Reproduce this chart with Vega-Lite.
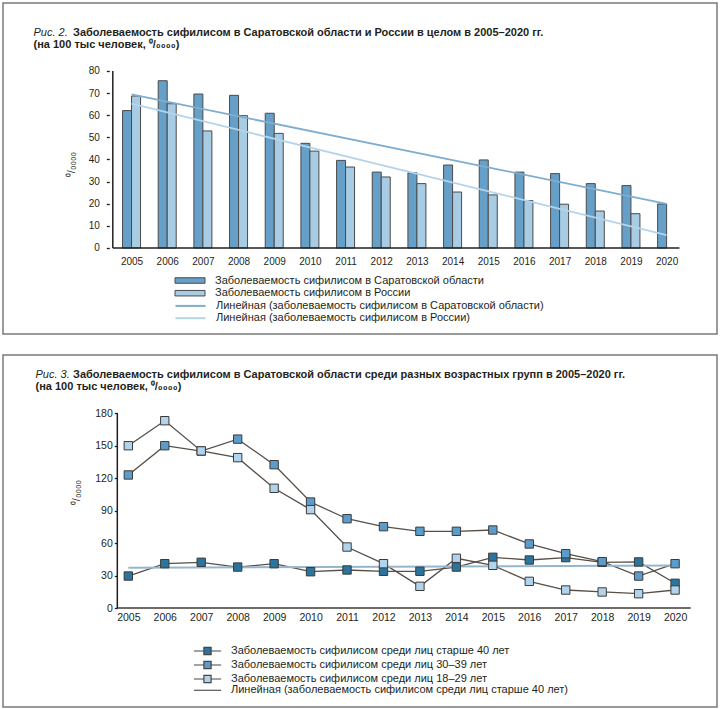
{
  "$schema": "https://vega.github.io/schema/vega-lite/v6.json",
  "padding": {"left": 2, "top": 2, "right": 0, "bottom": 0},
  "background": "white",
  "spacing": 19,
  "config": {
    "font": "Liberation Sans",
    "view": {"stroke": "#7a7a7a", "strokeWidth": 1.5},
    "axis": {"labelFont": "Liberation Sans", "labelColor": "#231f20", "titleFont": "Liberation Sans", "titleColor": "#231f20", "grid": false},
    "legend": {"labelFont": "Liberation Sans", "labelColor": "#231f20", "labelFontSize": 11, "padding": 0, "labelLimit": 700},
    "title": {"font": "Liberation Sans", "color": "#231f20"}
  },
  "datasets": {
    "bars": [
      {"year": 2005, "series": "Заболеваемость сифилисом в Саратовской области", "trend": "Линейная (заболеваемость сифилисом в Саратовской области)", "value": 62.1},
      {"year": 2006, "series": "Заболеваемость сифилисом в Саратовской области", "trend": "Линейная (заболеваемость сифилисом в Саратовской области)", "value": 75.6},
      {"year": 2007, "series": "Заболеваемость сифилисом в Саратовской области", "trend": "Линейная (заболеваемость сифилисом в Саратовской области)", "value": 69.6},
      {"year": 2008, "series": "Заболеваемость сифилисом в Саратовской области", "trend": "Линейная (заболеваемость сифилисом в Саратовской области)", "value": 69.0},
      {"year": 2009, "series": "Заболеваемость сифилисом в Саратовской области", "trend": "Линейная (заболеваемость сифилисом в Саратовской области)", "value": 60.9},
      {"year": 2010, "series": "Заболеваемость сифилисом в Саратовской области", "trend": "Линейная (заболеваемость сифилисом в Саратовской области)", "value": 47.3},
      {"year": 2011, "series": "Заболеваемость сифилисом в Саратовской области", "trend": "Линейная (заболеваемость сифилисом в Саратовской области)", "value": 39.6},
      {"year": 2012, "series": "Заболеваемость сифилисом в Саратовской области", "trend": "Линейная (заболеваемость сифилисом в Саратовской области)", "value": 34.3},
      {"year": 2013, "series": "Заболеваемость сифилисом в Саратовской области", "trend": "Линейная (заболеваемость сифилисом в Саратовской области)", "value": 34.0},
      {"year": 2014, "series": "Заболеваемость сифилисом в Саратовской области", "trend": "Линейная (заболеваемость сифилисом в Саратовской области)", "value": 37.5},
      {"year": 2015, "series": "Заболеваемость сифилисом в Саратовской области", "trend": "Линейная (заболеваемость сифилисом в Саратовской области)", "value": 39.8},
      {"year": 2016, "series": "Заболеваемость сифилисом в Саратовской области", "trend": "Линейная (заболеваемость сифилисом в Саратовской области)", "value": 34.3},
      {"year": 2017, "series": "Заболеваемость сифилисом в Саратовской области", "trend": "Линейная (заболеваемость сифилисом в Саратовской области)", "value": 33.6},
      {"year": 2018, "series": "Заболеваемость сифилисом в Саратовской области", "trend": "Линейная (заболеваемость сифилисом в Саратовской области)", "value": 29.1},
      {"year": 2019, "series": "Заболеваемость сифилисом в Саратовской области", "trend": "Линейная (заболеваемость сифилисом в Саратовской области)", "value": 28.2},
      {"year": 2020, "series": "Заболеваемость сифилисом в Саратовской области", "trend": "Линейная (заболеваемость сифилисом в Саратовской области)", "value": 19.9},
      {"year": 2005, "series": "Заболеваемость сифилисом в России", "trend": "Линейная (заболеваемость сифилисом в России)", "value": 68.7},
      {"year": 2006, "series": "Заболеваемость сифилисом в России", "trend": "Линейная (заболеваемость сифилисом в России)", "value": 65.2},
      {"year": 2007, "series": "Заболеваемость сифилисом в России", "trend": "Линейная (заболеваемость сифилисом в России)", "value": 52.9},
      {"year": 2008, "series": "Заболеваемость сифилисом в России", "trend": "Линейная (заболеваемость сифилисом в России)", "value": 59.8},
      {"year": 2009, "series": "Заболеваемость сифилисом в России", "trend": "Линейная (заболеваемость сифилисом в России)", "value": 51.8},
      {"year": 2010, "series": "Заболеваемость сифилисом в России", "trend": "Линейная (заболеваемость сифилисом в России)", "value": 43.8},
      {"year": 2011, "series": "Заболеваемость сифилисом в России", "trend": "Линейная (заболеваемость сифилисом в России)", "value": 36.6},
      {"year": 2012, "series": "Заболеваемость сифилисом в России", "trend": "Линейная (заболеваемость сифилисом в России)", "value": 32.1},
      {"year": 2013, "series": "Заболеваемость сифилисом в России", "trend": "Линейная (заболеваемость сифилисом в России)", "value": 29.1},
      {"year": 2014, "series": "Заболеваемость сифилисом в России", "trend": "Линейная (заболеваемость сифилисом в России)", "value": 25.3},
      {"year": 2015, "series": "Заболеваемость сифилисом в России", "trend": "Линейная (заболеваемость сифилисом в России)", "value": 24.0},
      {"year": 2016, "series": "Заболеваемость сифилисом в России", "trend": "Линейная (заболеваемость сифилисом в России)", "value": 21.4},
      {"year": 2017, "series": "Заболеваемость сифилисом в России", "trend": "Линейная (заболеваемость сифилисом в России)", "value": 19.8},
      {"year": 2018, "series": "Заболеваемость сифилисом в России", "trend": "Линейная (заболеваемость сифилисом в России)", "value": 16.7},
      {"year": 2019, "series": "Заболеваемость сифилисом в России", "trend": "Линейная (заболеваемость сифилисом в России)", "value": 15.5}
    ],
    "ages": [
      {"year": 2005, "series": "Заболеваемость сифилисом среди лиц старше 40 лет", "value": 29.5},
      {"year": 2006, "series": "Заболеваемость сифилисом среди лиц старше 40 лет", "value": 40.9},
      {"year": 2007, "series": "Заболеваемость сифилисом среди лиц старше 40 лет", "value": 42.2},
      {"year": 2008, "series": "Заболеваемость сифилисом среди лиц старше 40 лет", "value": 37.8},
      {"year": 2009, "series": "Заболеваемость сифилисом среди лиц старше 40 лет", "value": 40.9},
      {"year": 2010, "series": "Заболеваемость сифилисом среди лиц старше 40 лет", "value": 33.5},
      {"year": 2011, "series": "Заболеваемость сифилисом среди лиц старше 40 лет", "value": 35.1},
      {"year": 2012, "series": "Заболеваемость сифилисом среди лиц старше 40 лет", "value": 33.9},
      {"year": 2013, "series": "Заболеваемость сифилисом среди лиц старше 40 лет", "value": 33.9},
      {"year": 2014, "series": "Заболеваемость сифилисом среди лиц старше 40 лет", "value": 37.8},
      {"year": 2015, "series": "Заболеваемость сифилисом среди лиц старше 40 лет", "value": 46.8},
      {"year": 2016, "series": "Заболеваемость сифилисом среди лиц старше 40 лет", "value": 44.3},
      {"year": 2017, "series": "Заболеваемость сифилисом среди лиц старше 40 лет", "value": 46.5},
      {"year": 2018, "series": "Заболеваемость сифилисом среди лиц старше 40 лет", "value": 42.2},
      {"year": 2019, "series": "Заболеваемость сифилисом среди лиц старше 40 лет", "value": 42.5},
      {"year": 2020, "series": "Заболеваемость сифилисом среди лиц старше 40 лет", "value": 22.8},
      {"year": 2005, "series": "Заболеваемость сифилисом среди лиц 30–39 лет", "value": 122.8},
      {"year": 2006, "series": "Заболеваемость сифилисом среди лиц 30–39 лет", "value": 149.8},
      {"year": 2007, "series": "Заболеваемость сифилисом среди лиц 30–39 лет", "value": 144.9},
      {"year": 2008, "series": "Заболеваемость сифилисом среди лиц 30–39 лет", "value": 155.9},
      {"year": 2009, "series": "Заболеваемость сифилисом среди лиц 30–39 лет", "value": 132.3},
      {"year": 2010, "series": "Заболеваемость сифилисом среди лиц 30–39 лет", "value": 97.8},
      {"year": 2011, "series": "Заболеваемость сифилисом среди лиц 30–39 лет", "value": 82.4},
      {"year": 2012, "series": "Заболеваемость сифилисом среди лиц 30–39 лет", "value": 75.1},
      {"year": 2013, "series": "Заболеваемость сифилисом среди лиц 30–39 лет", "value": 70.8},
      {"year": 2014, "series": "Заболеваемость сифилисом среди лиц 30–39 лет", "value": 70.8},
      {"year": 2015, "series": "Заболеваемость сифилисом среди лиц 30–39 лет", "value": 72.0},
      {"year": 2016, "series": "Заболеваемость сифилисом среди лиц 30–39 лет", "value": 59.1},
      {"year": 2017, "series": "Заболеваемость сифилисом среди лиц 30–39 лет", "value": 50.1},
      {"year": 2018, "series": "Заболеваемость сифилисом среди лиц 30–39 лет", "value": 42.8},
      {"year": 2019, "series": "Заболеваемость сифилисом среди лиц 30–39 лет", "value": 29.5},
      {"year": 2020, "series": "Заболеваемость сифилисом среди лиц 30–39 лет", "value": 40.9},
      {"year": 2005, "series": "Заболеваемость сифилисом среди лиц 18–29 лет", "value": 149.8},
      {"year": 2006, "series": "Заболеваемость сифилисом среди лиц 18–29 лет", "value": 172.9},
      {"year": 2007, "series": "Заболеваемость сифилисом среди лиц 18–29 лет", "value": 145.0},
      {"year": 2008, "series": "Заболеваемость сифилисом среди лиц 18–29 лет", "value": 138.8},
      {"year": 2009, "series": "Заболеваемость сифилисом среди лиц 18–29 лет", "value": 110.5},
      {"year": 2010, "series": "Заболеваемость сифилисом среди лиц 18–29 лет", "value": 90.8},
      {"year": 2011, "series": "Заболеваемость сифилисом среди лиц 18–29 лет", "value": 56.3},
      {"year": 2012, "series": "Заболеваемость сифилисом среди лиц 18–29 лет", "value": 40.9},
      {"year": 2013, "series": "Заболеваемость сифилисом среди лиц 18–29 лет", "value": 20.0},
      {"year": 2014, "series": "Заболеваемость сифилисом среди лиц 18–29 лет", "value": 45.9},
      {"year": 2015, "series": "Заболеваемость сифилисом среди лиц 18–29 лет", "value": 39.4},
      {"year": 2016, "series": "Заболеваемость сифилисом среди лиц 18–29 лет", "value": 24.6},
      {"year": 2017, "series": "Заболеваемость сифилисом среди лиц 18–29 лет", "value": 16.6},
      {"year": 2018, "series": "Заболеваемость сифилисом среди лиц 18–29 лет", "value": 14.8},
      {"year": 2019, "series": "Заболеваемость сифилисом среди лиц 18–29 лет", "value": 13.2},
      {"year": 2020, "series": "Заболеваемость сифилисом среди лиц 18–29 лет", "value": 16.6}
    ]
  },
  "resolve": {"scale": {"x": "independent", "y": "independent", "fill": "independent", "stroke": "independent"}},
  "vconcat": [
    {
      "width": 714,
      "height": 331,
      "title": {
        "text": "Заболеваемость сифилисом в Саратовской области и России в целом в 2005–2020 гг.",
        "anchor": "start", "frame": "group", "dx": 70, "offset": -34.8,
        "fontSize": 11, "fontWeight": "bold"
      },
      "data": {"name": "bars"},
      "resolve": {"axis": {"y": "independent"}},
      "layer": [
        {
          "layer": [
            {
              "transform": [{"filter": {"field": "series", "equal": "Заболеваемость сифилисом в Саратовской области"}}],
              "mark": {"type": "bar", "width": 9, "xOffset": -4.5, "stroke": "#4a4a4a", "strokeWidth": 1},
              "encoding": {
                "x": {"field": "year", "type": "quantitative", "scale": {"domain": [2001.537, 2021.272], "nice": false, "zero": false},
                  "axis": {"values": [2005, 2006, 2007, 2008, 2009, 2010, 2011, 2012, 2013, 2014, 2015, 2016, 2017, 2018, 2019, 2020], "format": "d", "offset": -86, "ticks": false, "domain": false, "labelPadding": 8, "labelFontSize": 10, "labelFlush": false, "labelOverlap": false,
                    "title": "(на 100 тыс человек, \u2070/\u2080\u2080\u2080\u2080)", "titleFontWeight": "bold", "titleFontSize": 11, "titleX": 30, "titleY": -209.3, "titleAlign": "left", "titleBaseline": "top", "titleAngle": 0}},
                "y": {"field": "value", "type": "quantitative", "scale": {"domain": [-38.87, 110.73], "nice": false, "zero": false},
                  "axis": {"orient": "left", "values": [0, 10, 20, 30, 40, 50, 60, 70, 80], "offset": -106.3, "domain": false, "ticks": true, "tickSize": 3, "tickColor": "#231f20", "tickWidth": 1.3, "labelPadding": 7, "labelFontSize": 10,
                    "title": "\u2070/\u2080\u2080\u2080\u2080", "titleFontWeight": "normal", "titleFontSize": 11, "titleAngle": 270, "titleX": -37.8, "titleY": 161, "titleAlign": "center", "titleBaseline": "middle"}},
                "y2": {"datum": 0},
                "fill": {"field": "series", "type": "nominal", "scale": {"domain": ["Заболеваемость сифилисом в Саратовской области", "Заболеваемость сифилисом в России"], "range": ["#66a0c8", "#a8cce4"]},
                  "legend": {"title": null, "orient": "none", "legendX": 181.5, "legendY": 272, "symbolType": "M-3,-0.55H3V0.55H-3Z", "symbolSize": 100, "symbolStrokeColor": "#4a4a4a", "symbolStrokeWidth": 1, "labelOffset": 19.5, "rowPadding": 0.7, "labelFontSize": 11,
                    "encode": {"symbols": {"update": {"stroke": {"value": "#4a4a4a"}, "strokeWidth": {"value": 1}}}}}}
              }
            },
            {
              "transform": [{"filter": {"field": "series", "equal": "Заболеваемость сифилисом в России"}}],
              "mark": {"type": "bar", "width": 9, "xOffset": 4.5, "stroke": "#4a4a4a", "strokeWidth": 1},
              "encoding": {
                "x": {"field": "year", "type": "quantitative", "scale": {"domain": [2001.537, 2021.272], "nice": false, "zero": false}},
                "y": {"field": "value", "type": "quantitative", "scale": {"domain": [-38.87, 110.73], "nice": false, "zero": false}},
                "y2": {"datum": 0},
                "fill": {"field": "series", "type": "nominal", "scale": {"domain": ["Заболеваемость сифилисом в Саратовской области", "Заболеваемость сифилисом в России"], "range": ["#66a0c8", "#a8cce4"]}}
              }
            },
            {
              "transform": [{"regression": "value", "on": "year", "groupby": ["trend"], "extent": [2005, 2020]}],
              "mark": {"type": "line", "strokeWidth": 1.8},
              "encoding": {
                "x": {"field": "year", "type": "quantitative", "scale": {"domain": [2001.537, 2021.272], "nice": false, "zero": false}},
                "y": {"field": "value", "type": "quantitative", "scale": {"domain": [-38.87, 110.73], "nice": false, "zero": false}},
                "stroke": {"field": "trend", "type": "nominal", "scale": {"domain": ["Линейная (заболеваемость сифилисом в Саратовской области)", "Линейная (заболеваемость сифилисом в России)"], "range": ["#7dadcf", "#b4d4ea"]},
                  "legend": {"title": null, "orient": "none", "legendX": 181.5, "legendY": 296.9, "symbolType": "M-3,0H3", "symbolSize": 100, "symbolStrokeWidth": 2, "labelOffset": 19.5, "rowPadding": 1.3, "labelFontSize": 11}}
              }
            },
            {
              "data": {"values": [{}]},
              "mark": {"type": "rule", "color": "#231f20", "strokeWidth": 1.5},
              "encoding": {
                "x": {"datum": 2004.475, "type": "quantitative", "scale": {"domain": [2001.537, 2021.272], "nice": false, "zero": false}},
                "x2": {"datum": 2020.36},
                "y": {"datum": 0, "type": "quantitative", "scale": {"domain": [-38.87, 110.73], "nice": false, "zero": false}}
              }
            }
          ]
        },
        {
          "data": {"values": [{}]},
          "mark": {"type": "rule", "color": "#231f20", "strokeWidth": 1.5},
          "encoding": {
            "x": {"datum": 2004.475, "type": "quantitative", "scale": {"domain": [2001.537, 2021.272], "nice": false, "zero": false}},
            "y": {"datum": 0, "type": "quantitative", "scale": {"domain": [-38.87, 110.73], "nice": false, "zero": false},
              "axis": {"orient": "left", "labels": false, "ticks": false, "domain": false, "grid": false, "offset": 0,
                "title": "Рис. 2.", "titleFontStyle": "italic", "titleFontWeight": "normal", "titleFontSize": 11, "titleX": 30, "titleY": 23, "titleAlign": "left", "titleBaseline": "top", "titleAngle": 0}},
            "y2": {"datum": 80}
          }
        }
      ]
    },
    {
      "width": 714,
      "height": 352,
      "title": {
        "text": "Заболеваемость сифилисом в Саратовской области среди разных возрастных групп в 2005–2020 гг.",
        "anchor": "start", "frame": "group", "dx": 70, "offset": -24.8,
        "fontSize": 11, "fontWeight": "bold"
      },
      "data": {"name": "ages"},
      "resolve": {"axis": {"y": "independent"}},
      "layer": [
        {
          "layer": [
            {
              "mark": {"type": "line", "stroke": "#574f48", "strokeWidth": 1.3},
              "encoding": {
                "x": {"field": "year", "type": "quantitative", "scale": {"domain": [2001.562, 2021.15], "nice": false, "zero": false},
                  "axis": {"values": [2005, 2006, 2007, 2008, 2009, 2010, 2011, 2012, 2013, 2014, 2015, 2016, 2017, 2018, 2019, 2020], "format": "d", "offset": -99, "ticks": false, "domain": false, "labelPadding": 4, "labelFontSize": 10.5, "labelFlush": false, "labelOverlap": false,
                    "title": "(на 100 тыс человек, \u2070/\u2080\u2080\u2080\u2080)", "titleFontWeight": "bold", "titleFontSize": 11, "titleX": 32, "titleY": -227.5, "titleAlign": "left", "titleBaseline": "top", "titleAngle": 0}},
                "y": {"field": "value", "type": "quantitative", "scale": {"domain": [-91.38, 233.54], "nice": false, "zero": false},
                  "axis": {"orient": "left", "values": [0, 30, 60, 90, 120, 150, 180], "offset": -114.3, "domain": false, "ticks": true, "tickSize": 3, "tickColor": "#231f20", "tickWidth": 1.3, "labelPadding": 2, "labelFontSize": 10.5,
                    "title": "\u2070/\u2080\u2080\u2080\u2080", "titleFontWeight": "normal", "titleFontSize": 11, "titleAngle": 270, "titleX": -41.3, "titleY": 137, "titleAlign": "center", "titleBaseline": "middle"}},
                "detail": {"field": "series", "type": "nominal"}
              }
            },
            {
              "transform": [
                {"filter": {"field": "series", "equal": "Заболеваемость сифилисом среди лиц старше 40 лет"}},
                {"regression": "value", "on": "year", "extent": [2005, 2020]}
              ],
              "mark": {"type": "line", "stroke": "#95b6cf", "strokeWidth": 2},
              "encoding": {
                "x": {"field": "year", "type": "quantitative", "scale": {"domain": [2001.562, 2021.15], "nice": false, "zero": false}},
                "y": {"field": "value", "type": "quantitative", "scale": {"domain": [-91.38, 233.54], "nice": false, "zero": false}}
              }
            },
            {
              "mark": {"type": "point", "shape": "square", "filled": true, "size": 70, "stroke": "#3d3a36", "strokeWidth": 1, "opacity": 1},
              "encoding": {
                "x": {"field": "year", "type": "quantitative", "scale": {"domain": [2001.562, 2021.15], "nice": false, "zero": false}},
                "y": {"field": "value", "type": "quantitative", "scale": {"domain": [-91.38, 233.54], "nice": false, "zero": false}},
                "fill": {"field": "series", "type": "nominal", "scale": {"domain": ["Заболеваемость сифилисом среди лиц старше 40 лет", "Заболеваемость сифилисом среди лиц 30–39 лет", "Заболеваемость сифилисом среди лиц 18–29 лет"], "range": ["#2a75a0", "#5a9dcc", "#b0d4ee"]},
                  "legend": {"title": null, "orient": "none", "legendX": 199, "legendY": 290.5, "symbolType": "M-3.4,0H-0.9M0.9,0H3.4M-0.9,-0.9H0.9V0.9H-0.9Z", "symbolSize": 64, "symbolStrokeColor": "#4a4540", "symbolStrokeWidth": 1.2, "labelOffset": 18, "rowPadding": 1, "labelFontSize": 11,
                    "encode": {"symbols": {"update": {"stroke": {"value": "#4a4540"}, "strokeWidth": {"value": 1.2}, "opacity": {"value": 1}}}}}}
              }
            },
            {
              "data": {"values": [{"trend": "Линейная (заболеваемость сифилисом среди лиц старше 40 лет)"}]},
              "mark": {"type": "rule", "strokeWidth": 1.5},
              "encoding": {
                "x": {"datum": 2004.698, "type": "quantitative", "scale": {"domain": [2001.562, 2021.15], "nice": false, "zero": false}},
                "x2": {"datum": 2020.429},
                "y": {"datum": 0, "type": "quantitative", "scale": {"domain": [-91.38, 233.54], "nice": false, "zero": false}},
                "stroke": {"field": "trend", "type": "nominal", "scale": {"domain": ["Линейная (заболеваемость сифилисом среди лиц старше 40 лет)"], "range": ["#3f3a35"]},
                  "legend": {"title": null, "orient": "none", "legendX": 199, "legendY": 329.8, "symbolType": "M-3.4,0H3.4", "symbolSize": 64, "symbolStrokeWidth": 1.2, "labelOffset": 18, "labelFontSize": 11,
                    "encode": {"symbols": {"update": {"strokeWidth": {"value": 1.2}, "opacity": {"value": 0.85}}}}}}
              }
            }
          ]
        },
        {
          "data": {"values": [{}]},
          "mark": {"type": "rule", "color": "#231f20", "strokeWidth": 1.5},
          "encoding": {
            "x": {"datum": 2004.698, "type": "quantitative", "scale": {"domain": [2001.562, 2021.15], "nice": false, "zero": false}},
            "y": {"datum": 0, "type": "quantitative", "scale": {"domain": [-91.38, 233.54], "nice": false, "zero": false},
              "axis": {"orient": "left", "labels": false, "ticks": false, "domain": false, "grid": false, "offset": 0,
                "title": "Рис. 3.", "titleFontStyle": "italic", "titleFontWeight": "normal", "titleFontSize": 11, "titleX": 32, "titleY": 13, "titleAlign": "left", "titleBaseline": "top", "titleAngle": 0}},
            "y2": {"datum": 180}
          }
        }
      ]
    }
  ]
}
